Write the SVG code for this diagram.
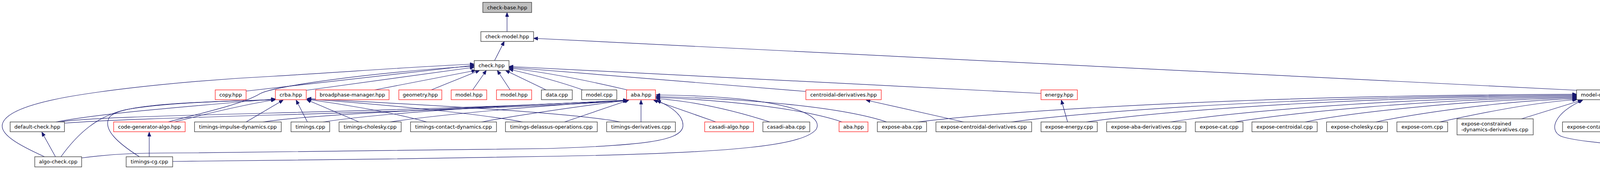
<svg xmlns="http://www.w3.org/2000/svg" width="6685" height="440" viewBox="0 0 6685 440">
<defs>
<marker id="ah" viewBox="0 0 11 9" refX="11" refY="4.5" markerWidth="11" markerHeight="9" markerUnits="userSpaceOnUse" orient="auto"><path d="M0,0 L11,4.5 L0,9 z" fill="#191970" stroke="#191970" stroke-width="1"/></marker>
</defs>
<style>
.nd rect{fill:#ffffff;stroke:#404040;stroke-width:1.4}
.rd rect{stroke:#ff2a2a}
.root rect{fill:#bfbfbf}
text{font-family:"DejaVu Sans","Liberation Sans",sans-serif;font-size:13px;fill:#000000;text-anchor:middle}
text.l{text-anchor:start}
#edges path{fill:none;stroke:#191970;stroke-width:1.2;marker-end:url(#ah)}
</style>
<rect x="0" y="0" width="6685" height="440" fill="#ffffff"/>
<g id="edges">
<path d="M1298,81 L1298,32"/>
<path d="M1266,155 L1291,106"/>
<path d="M4038,231 L1366,98"/>
<path d="M630,233 L1214,167"/>
<path d="M784,231 L1214,172"/>
<path d="M959,230 L1218,180"/>
<path d="M1104,230 L1228,180"/>
<path d="M1210,230 L1245,180"/>
<path d="M1306,230 L1273,180"/>
<path d="M1398,230 L1294,180"/>
<path d="M1492,230 C1430,208 1360,190 1303,177"/>
<path d="M1606,230 C1500,205 1390,184 1303,174"/>
<path d="M2063,234 L1303,172"/>
<path d="M2665,239 L1303,170"/>
<path d="M114,401 C50,372 0,345 6,318 C12,292 60,268 178,247 C300,226 500,205 700,195 C900,183 1100,168 1214,164"/>
<path d="M430,312 C540,284 630,262 665,240 C700,220 950,186 1214,169"/>
<path d="M143,312 C260,290 450,275 705,253"/>
<path d="M153,312 C260,292 1000,290 1606,256"/>
<path d="M165,315 C400,297 1100,290 1607,258"/>
<path d="M446,312 C540,288 640,265 705,255"/>
<path d="M142,401 L107,338"/>
<path d="M156,401 C200,340 250,297 320,281 C420,262 600,258 705,255"/>
<path d="M209,404 C300,392 360,391 500,391 L1400,380 C1650,372 1740,360 1748,325 C1752,300 1725,275 1681,257"/>
<path d="M382,401 L382,338"/>
<path d="M357,401 C300,365 262,330 280,300 C300,275 400,262 705,255"/>
<path d="M442,413 C700,412 1100,405 1400,400 C1900,392 2060,370 2090,330 C2110,290 2000,246 1679,243"/>
<path d="M630,312 L725,256"/>
<path d="M673,312 C800,292 1200,276 1606,257"/>
<path d="M787,312 L758,256"/>
<path d="M827,312 C1000,286 1300,270 1606,257"/>
<path d="M919,312 L785,255"/>
<path d="M997,312 C1150,290 1400,270 1607,256"/>
<path d="M1093,312 C1000,286 860,264 786,254"/>
<path d="M1233,312 C1350,290 1500,270 1608,256"/>
<path d="M1338,312 C1200,286 920,263 786,253"/>
<path d="M1445,312 L1610,256"/>
<path d="M1641,312 L1641,256"/>
<path d="M1588,312 C1450,285 960,262 786,252"/>
<path d="M1833,312 L1673,256"/>
<path d="M1971,312 C1860,276 1760,258 1679,252"/>
<path d="M2270,312 C2150,272 1900,252 1679,247"/>
<path d="M2156,312 C2050,276 1850,256 1679,249"/>
<path d="M2467,312 L2217,256"/>
<path d="M2733,312 L2717,256"/>
<path d="M2348,312 C2600,282 3200,244 4036,241"/>
<path d="M2589,312 C2800,285 3300,246 4036,243"/>
<path d="M2781,312 C2950,288 3400,248 4036,245"/>
<path d="M2996,312 C3150,288 3550,250 4036,247"/>
<path d="M3160,312 C3300,290 3650,252 4036,249"/>
<path d="M3341,312 C3450,290 3750,254 4036,251"/>
<path d="M3522,312 C3620,292 3850,256 4036,253"/>
<path d="M3685,312 C3780,292 3920,262 4037,255"/>
<path d="M3895,304 L4050,256"/>
<path d="M4109,312 L4109,256"/>
<path d="M4276,304 L4148,256"/>
<path d="M4481,312 C4400,290 4250,265 4178,256"/>
<path d="M4702,312 C4600,290 4400,256 4183,252"/>
<path d="M4900,312 C4800,290 4500,255 4183,250"/>
<path d="M5106,304 C5000,285 4600,252 4183,249"/>
<path d="M5370,312 C5200,285 4700,250 4183,248"/>
<path d="M5620,312 C5400,285 4800,250 4183,247"/>
<path d="M5881,312 C5600,285 4900,248 4183,246"/>
<path d="M6136,312 C5800,282 5000,247 4183,245"/>
<path d="M6335,312 C6000,280 5100,246 4183,244"/>
<path d="M6557,312 C6300,278 5200,245 4183,243"/>
<path d="M5205,411 C4600,400 4060,376 3995,348 C3965,332 3978,290 4052,256"/>
<path d="M5357,412 C5800,405 6300,375 6545,338"/>
</g>
<g id="n-check-base" class="nd root"><rect x="1236" y="6" width="125" height="26"/><text x="1298.5" y="23.5">check-base.hpp</text></g>
<g id="n-check-model" class="nd"><rect x="1231" y="81" width="135" height="25"/><text x="1298.5" y="98">check-model.hpp</text></g>
<g id="n-check" class="nd"><rect x="1214" y="155" width="89" height="25"/><text x="1258.5" y="172">check.hpp</text></g>
<g id="n-copy" class="nd rd"><rect x="551" y="230" width="79" height="25"/><text x="590.5" y="247">copy.hpp</text></g>
<g id="n-crba" class="nd rd"><rect x="705" y="230" width="79" height="25"/><text x="744.5" y="247">crba.hpp</text></g>
<g id="n-broadphase" class="nd rd"><rect x="808" y="230" width="188" height="25"/><text x="902" y="247">broadphase-manager.hpp</text></g>
<g id="n-geometry" class="nd rd"><rect x="1021" y="230" width="110" height="25"/><text x="1076" y="247">geometry.hpp</text></g>
<g id="n-model1" class="nd rd"><rect x="1155" y="230" width="91" height="25"/><text x="1200.5" y="247">model.hpp</text></g>
<g id="n-model2" class="nd rd"><rect x="1271" y="230" width="90" height="25"/><text x="1316" y="247">model.hpp</text></g>
<g id="n-data-cpp" class="nd"><rect x="1386" y="230" width="79" height="25"/><text x="1425.5" y="247">data.cpp</text></g>
<g id="n-model-cpp" class="nd"><rect x="1489" y="230" width="90" height="25"/><text x="1534" y="247">model.cpp</text></g>
<g id="n-aba1" class="nd rd"><rect x="1604" y="230" width="74" height="25"/><text x="1641" y="247">aba.hpp</text></g>
<g id="n-centroidal-derivatives" class="nd rd"><rect x="2063" y="230" width="193" height="25"/><text x="2159.5" y="247">centroidal-derivatives.hpp</text></g>
<g id="n-energy" class="nd rd"><rect x="2665" y="230" width="93" height="25"/><text x="2711.5" y="247">energy.hpp</text></g>
<g id="n-model-checker" class="nd"><rect x="4036" y="230" width="146" height="25"/><text x="4109" y="247">model-checker.hpp</text></g>
<g id="n-default-check" class="nd"><rect x="26" y="312" width="139" height="25"/><text x="95.5" y="329">default-check.hpp</text></g>
<g id="n-code-generator-algo" class="nd rd"><rect x="291" y="312" width="183" height="25"/><text x="382.5" y="329">code-generator-algo.hpp</text></g>
<g id="n-timings-impulse-dynamics" class="nd"><rect x="498" y="312" width="222" height="25"/><text x="609" y="329">timings-impulse-dynamics.cpp</text></g>
<g id="n-timings" class="nd"><rect x="745" y="312" width="99" height="25"/><text x="794.5" y="329">timings.cpp</text></g>
<g id="n-timings-cholesky" class="nd"><rect x="868" y="312" width="159" height="25"/><text x="947.5" y="329">timings-cholesky.cpp</text></g>
<g id="n-timings-contact-dynamics" class="nd"><rect x="1051" y="312" width="220" height="25"/><text x="1161" y="329">timings-contact-dynamics.cpp</text></g>
<g id="n-timings-delassus-operations" class="nd"><rect x="1294" y="312" width="235" height="25"/><text x="1411.5" y="329">timings-delassus-operations.cpp</text></g>
<g id="n-timings-derivatives" class="nd"><rect x="1553" y="312" width="176" height="25"/><text x="1641" y="329">timings-derivatives.cpp</text></g>
<g id="n-casadi-algo" class="nd rd"><rect x="1804" y="312" width="125" height="25"/><text x="1866.5" y="329">casadi-algo.hpp</text></g>
<g id="n-casadi-aba" class="nd"><rect x="1953" y="312" width="120" height="25"/><text x="2013" y="329">casadi-aba.cpp</text></g>
<g id="n-aba2" class="nd rd"><rect x="2148" y="312" width="74" height="25"/><text x="2185" y="329">aba.hpp</text></g>
<g id="n-expose-aba" class="nd"><rect x="2246" y="312" width="126" height="25"/><text x="2309" y="329">expose-aba.cpp</text></g>
<g id="n-expose-centroidal-derivatives" class="nd"><rect x="2396" y="312" width="245" height="25"/><text x="2518.5" y="329">expose-centroidal-derivatives.cpp</text></g>
<g id="n-expose-energy" class="nd"><rect x="2665" y="312" width="144" height="25"/><text x="2737" y="329">expose-energy.cpp</text></g>
<g id="n-expose-aba-derivatives" class="nd"><rect x="2833" y="312" width="203" height="25"/><text x="2934.5" y="329">expose-aba-derivatives.cpp</text></g>
<g id="n-expose-cat" class="nd"><rect x="3060" y="312" width="122" height="25"/><text x="3121" y="329">expose-cat.cpp</text></g>
<g id="n-expose-centroidal" class="nd"><rect x="3205" y="312" width="167" height="25"/><text x="3288.5" y="329">expose-centroidal.cpp</text></g>
<g id="n-expose-cholesky" class="nd"><rect x="3396" y="312" width="156" height="25"/><text x="3474" y="329">expose-cholesky.cpp</text></g>
<g id="n-expose-com" class="nd"><rect x="3576" y="312" width="130" height="25"/><text x="3641" y="329">expose-com.cpp</text></g>
<g id="n-expose-constrained-dynamics-derivatives" class="nd"><rect x="3730" y="304" width="195" height="41"/><text class="l" x="3741" y="321">expose-constrained</text><text class="l" x="3741" y="336">-dynamics-derivatives.cpp</text></g>
<g id="n-expose-contact-dynamics" class="nd"><rect x="4000" y="312" width="218" height="25"/><text x="4109" y="329">expose-contact-dynamics.cpp</text></g>
<g id="n-expose-contact-inverse-dynamics" class="nd"><rect x="4242" y="304" width="175" height="41"/><text x="4329.5" y="321">expose-contact-inverse</text><text x="4329.5" y="336">-dynamics.cpp</text></g>
<g id="n-expose-contact-jacobian" class="nd"><rect x="4441" y="312" width="209" height="25"/><text x="4545.5" y="329">expose-contact-jacobian.cpp</text></g>
<g id="n-expose-delassus" class="nd"><rect x="4674" y="312" width="159" height="25"/><text x="4753.5" y="329">expose-delassus.cpp</text></g>
<g id="n-expose-frames-derivatives" class="nd"><rect x="4856" y="312" width="226" height="25"/><text x="4969" y="329">expose-frames-derivatives.cpp</text></g>
<g id="n-expose-impulse-dynamics-derivatives" class="nd"><rect x="5106" y="304" width="195" height="41"/><text x="5203.5" y="321">expose-impulse-dynamics</text><text x="5203.5" y="336">-derivatives.cpp</text></g>
<g id="n-expose-impulse-dynamics" class="nd"><rect x="5325" y="312" width="221" height="25"/><text x="5435.5" y="329">expose-impulse-dynamics.cpp</text></g>
<g id="n-expose-kinematic-regressor" class="nd"><rect x="5571" y="312" width="231" height="25"/><text x="5686.5" y="329">expose-kinematic-regressor.cpp</text></g>
<g id="n-expose-kinematics-derivatives" class="nd"><rect x="5826" y="312" width="251" height="25"/><text x="5951.5" y="329">expose-kinematics-derivatives.cpp</text></g>
<g id="n-expose-regressor" class="nd"><rect x="6101" y="312" width="162" height="25"/><text x="6182" y="329">expose-regressor.cpp</text></g>
<g id="n-expose-rnea-derivatives" class="nd"><rect x="6288" y="312" width="211" height="25"/><text x="6393.5" y="329">expose-rnea-derivatives.cpp</text></g>
<g id="n-contact-cholesky" class="nd"><rect x="6523" y="312" width="161" height="25"/><text x="6603.5" y="329">contact-cholesky.hpp</text></g>
<g id="n-algo-check" class="nd"><rect x="89" y="401" width="120" height="26"/><text x="149" y="418">algo-check.cpp</text></g>
<g id="n-timings-cg" class="nd"><rect x="323" y="401" width="119" height="26"/><text x="382.5" y="418">timings-cg.cpp</text></g>
<g id="n-expose-constrained-dynamics" class="nd"><rect x="5205" y="394" width="152" height="40"/><text x="5281" y="410">expose-constrained</text><text x="5281" y="425">-dynamics.cpp</text></g>
</svg>
